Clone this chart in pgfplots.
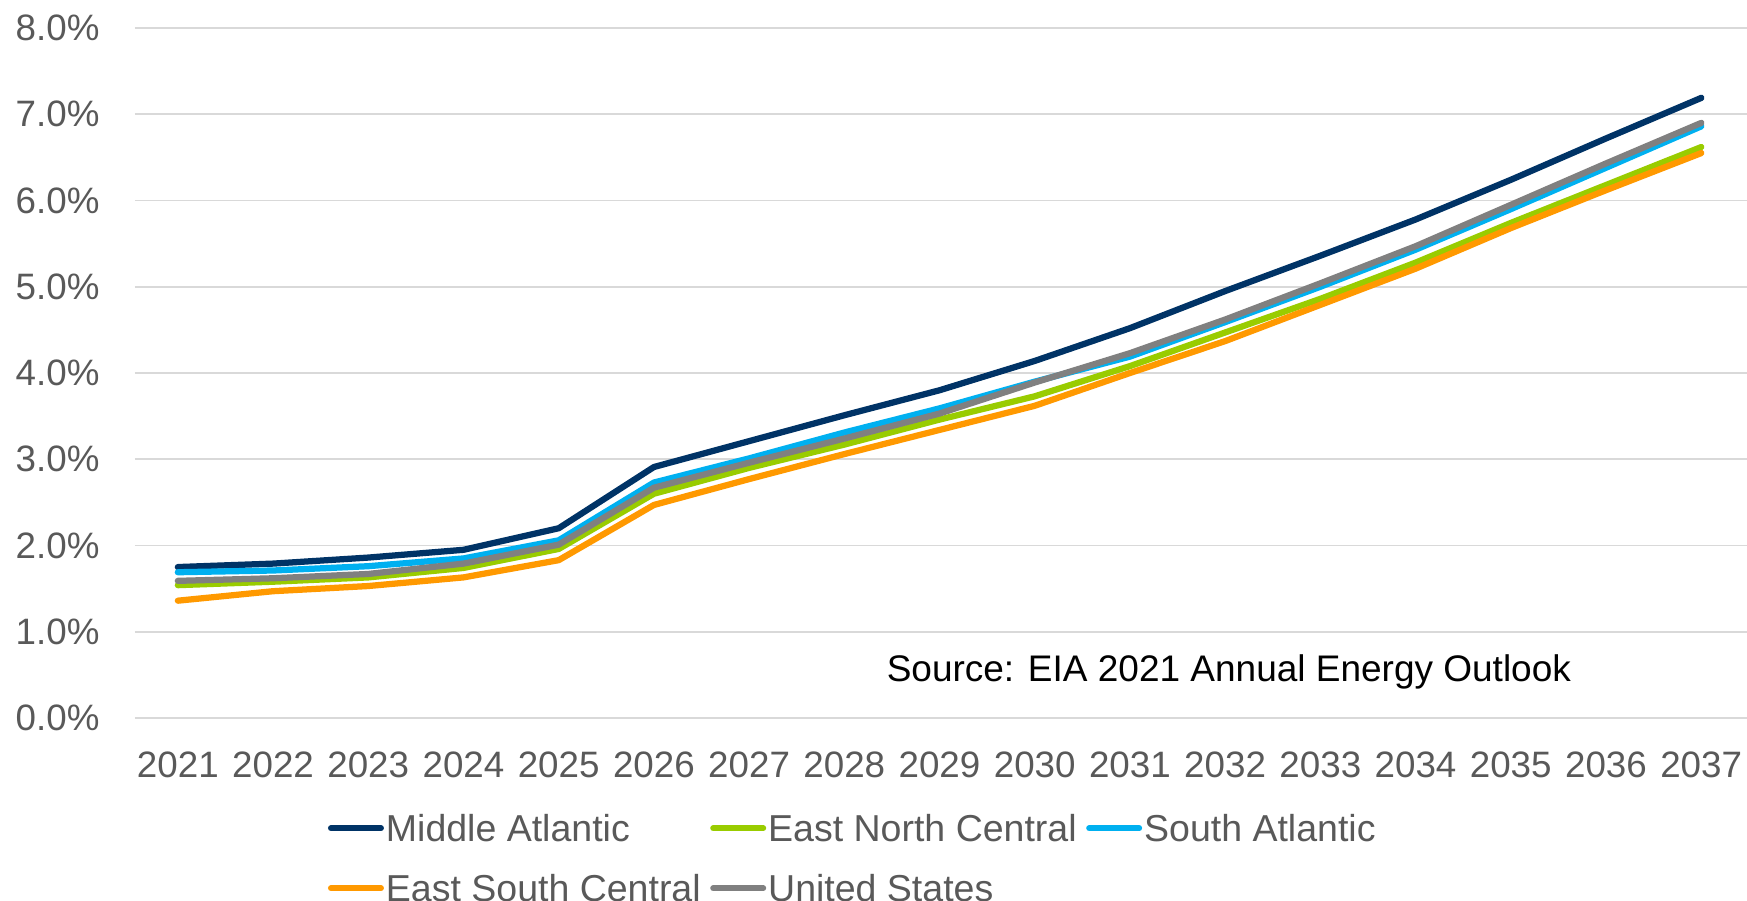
\documentclass[border=0pt]{standalone}
\usepackage{pgfplots}
\pgfplotsset{compat=1.18}
\usepackage{pgfplotstable}
\usepackage{fontspec}
\setmainfont{Liberation Sans}
\definecolor{cMA}{HTML}{003366}
\definecolor{cENC}{HTML}{99CC00}
\definecolor{cSA}{HTML}{00B0F0}
\definecolor{cESC}{HTML}{FF9900}
\definecolor{cUS}{HTML}{808080}
\definecolor{txt}{HTML}{595959}
\definecolor{grd}{HTML}{D9D9D9}
\pgfplotstableread{
year MA ENC SA ESC US
2021 1.75 1.54 1.69 1.36 1.59
2022 1.79 1.58 1.71 1.47 1.62
2023 1.86 1.63 1.76 1.53 1.67
2024 1.95 1.74 1.85 1.63 1.79
2025 2.20 1.96 2.06 1.83 2.01
2026 2.91 2.60 2.73 2.47 2.67
2027 3.21 2.90 3.01 2.77 2.96
2028 3.51 3.17 3.31 3.06 3.24
2029 3.80 3.46 3.59 3.34 3.53
2030 4.14 3.73 3.90 3.62 3.89
2031 4.52 4.08 4.19 4.00 4.23
2032 4.95 4.47 4.59 4.37 4.62
2033 5.36 4.86 5.00 4.79 5.04
2034 5.78 5.28 5.43 5.21 5.47
2035 6.24 5.74 5.90 5.68 5.95
2036 6.72 6.18 6.38 6.12 6.43
2037 7.19 6.62 6.86 6.55 6.90
}\datatable
\begin{document}
\begin{tikzpicture}
\useasboundingbox (-54pt,-73.2pt) rectangle (644.8pt,287.2pt);
\begin{axis}[
  at={(0,0)}, anchor=south west,
  scale only axis, width=644.8pt, height=276pt,
  xmin=2020.55, xmax=2037.48, ymin=0, ymax=8,
  axis line style={draw=none},
  major tick length=0pt,
  xtick={2021,...,2037},
  ytick={0,1,...,8},
  ymajorgrids, grid style={grd, line width=0.7pt},
  /pgf/number format/assume math mode=true,
  /pgf/number format/1000 sep={},
  tick label style={font=\fontsize{14.7}{16}\selectfont, text=txt},
  yticklabel={\pgfmathprintnumber[fixed,fixed zerofill,precision=1]{\tick}\%},
  yticklabel style={anchor=east, inner sep=0pt, xshift=-14pt},
  xticklabel style={anchor=north, inner sep=0pt, yshift=-13.2pt},
  legend columns=3,
  legend cell align=left,
  legend style={draw=none, fill=none, inner sep=0pt, outer sep=0pt,
    at={(0.1197,-0.1375)}, anchor=north west,
    font=\fontsize{15}{16}\selectfont, text=txt,
    nodes={inner sep=0.8pt, text height=10.7pt, text depth=0pt},
    row sep=11.7pt,
    /tikz/every even column/.append style={column sep=3pt}},
  legend image code/.code={\draw[#1, line width=2.4pt, line cap=round] (0pt,0pt) -- (20pt,0pt);},
  every axis plot/.append style={line width=2.5pt, line join=round, line cap=round},
]
\addplot[cMA] table[x=year,y=MA]{\datatable};
\addlegendentry{Middle Atlantic}
\addplot[cENC] table[x=year,y=ENC]{\datatable};
\addlegendentry{East North Central}
\addplot[cSA] table[x=year,y=SA]{\datatable};
\addlegendentry{South Atlantic}
\addplot[cESC] table[x=year,y=ESC]{\datatable};
\addlegendentry{East South Central}
\addplot[cUS] table[x=year,y=US]{\datatable};
\addlegendentry{United States}
\node[anchor=west, inner sep=0pt, font=\fontsize{14.8}{16}\selectfont, text=black] at (axis cs:2028.44,0.53) {Source: EIA 2021 Annual Energy Outlook};
\end{axis}
\end{tikzpicture}
\end{document}
